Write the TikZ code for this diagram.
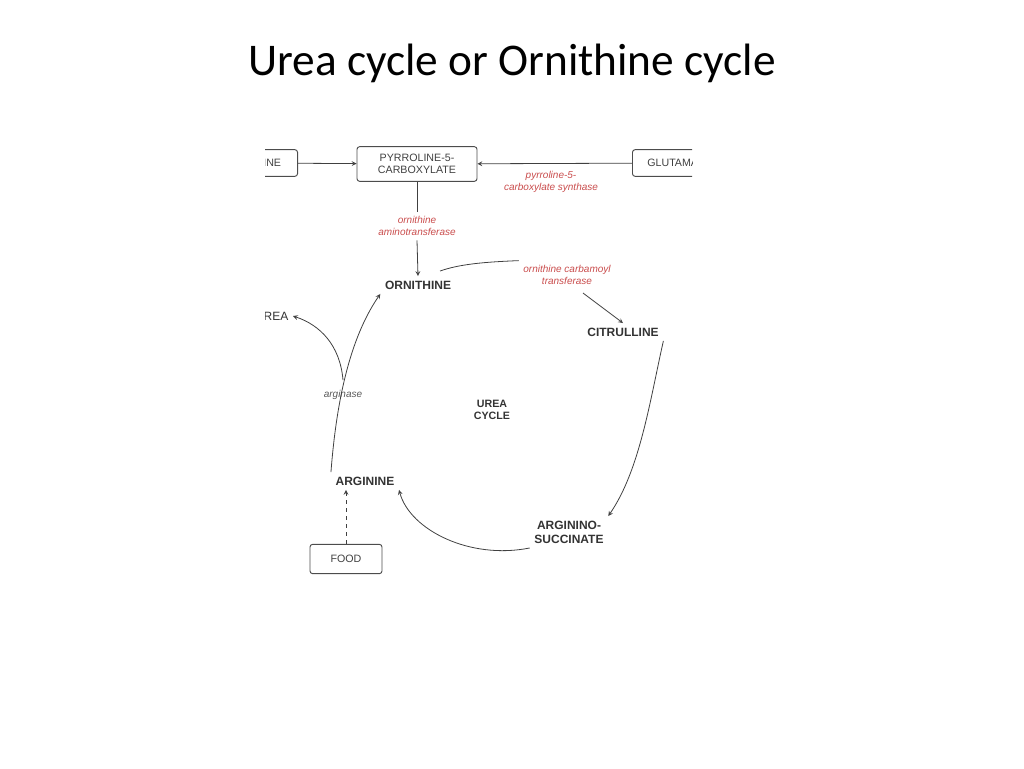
\documentclass[tikz,border=0pt]{standalone}
\usepackage{fontspec}
\setmainfont{Liberation Sans}
\newfontfamily\titlefont{Carlito}
\begin{document}
\begin{tikzpicture}[x=0.75pt,y=-0.75pt,
  box/.style={draw=black!70,rounded corners=2pt,line width=0.7pt,inner sep=2pt,font=\fontsize{8}{9}\selectfont,text=black!75,align=center},
  met/.style={font=\bfseries\fontsize{9}{10.5}\selectfont,text=black!80,align=center},
  enz/.style={font=\itshape\fontsize{7.5}{9}\selectfont,text=red!70!black!70,align=center},
  arr/.style={->,>=stealth,black!75,line width=0.6pt}]
\useasboundingbox (0,0) rectangle (1024,768);
\node[font=\titlefont\fontsize{34}{40}\selectfont] (title) at (512,63) {Urea cycle or Ornithine cycle};
\begin{scope}
\clip (265,140) rectangle (692,580);
\node[box,minimum width=58,minimum height=20,anchor=east] (ine) at (298,163) {\hspace*{20pt}INE};
\node[box,minimum width=90,minimum height=26] (p5c) at (417,164) {PYRROLINE-5-\\CARBOXYLATE};
\node[box,minimum width=70,minimum height=20,anchor=west] (glu) at (632,163) {GLUTAMATE};
\draw[arr] (ine) -- (p5c);
\draw[arr] (glu) -- (p5c);
\node[enz] (pcs) at (551,182) {pyrroline-5-\\carboxylate synthase};
\node[enz] (oat) at (417,226) {ornithine\\aminotransferase};
\node[met] (orn) at (418,285) {ORNITHINE};
\draw[black!75,line width=0.6pt] (p5c) -- (oat.north);
\draw[arr] (oat.south) -- (orn.north);
\node[enz] (otc) at (567,275) {ornithine carbamoyl\\transferase};
\node[met] (cit) at (623,332) {CITRULLINE};
\node[met] (asu) at (569,532) {ARGININO-\\SUCCINATE};
\node[met] (arg) at (365,481) {ARGININE};
\node[met,font=\bfseries\fontsize{8}{9.5}\selectfont] (uc) at (492,410) {UREA\\CYCLE};
\node[enz,text=black!65] (ase) at (343,395) {arginase};
\node[met,font=\fontsize{9}{10}\selectfont,anchor=east] (urea) at (293,316) {UREA};
\node[box,minimum width=54,minimum height=22] (food) at (346,559) {FOOD};
\draw[black!75,line width=0.6pt] (440,271) .. controls (460,264) and (485,262) .. (otc.north west);
\draw[arr] (583,293) -- (cit.north);
\draw[arr] (cit.south east) .. controls (650,400) and (640,470) .. (asu.north east);
\draw[arr] (asu.south west) .. controls (470,560) and (410,530) .. (arg.south east);
\draw[arr] (arg.north west) .. controls (335,420) and (345,345) .. (orn.south west);
\draw[arr] (343,380) .. controls (340,345) and (320,325) .. (urea.east);
\draw[arr,dashed] (food.north) -- (arg.south -| food.north);
\end{scope}
\end{tikzpicture}
\end{document}
